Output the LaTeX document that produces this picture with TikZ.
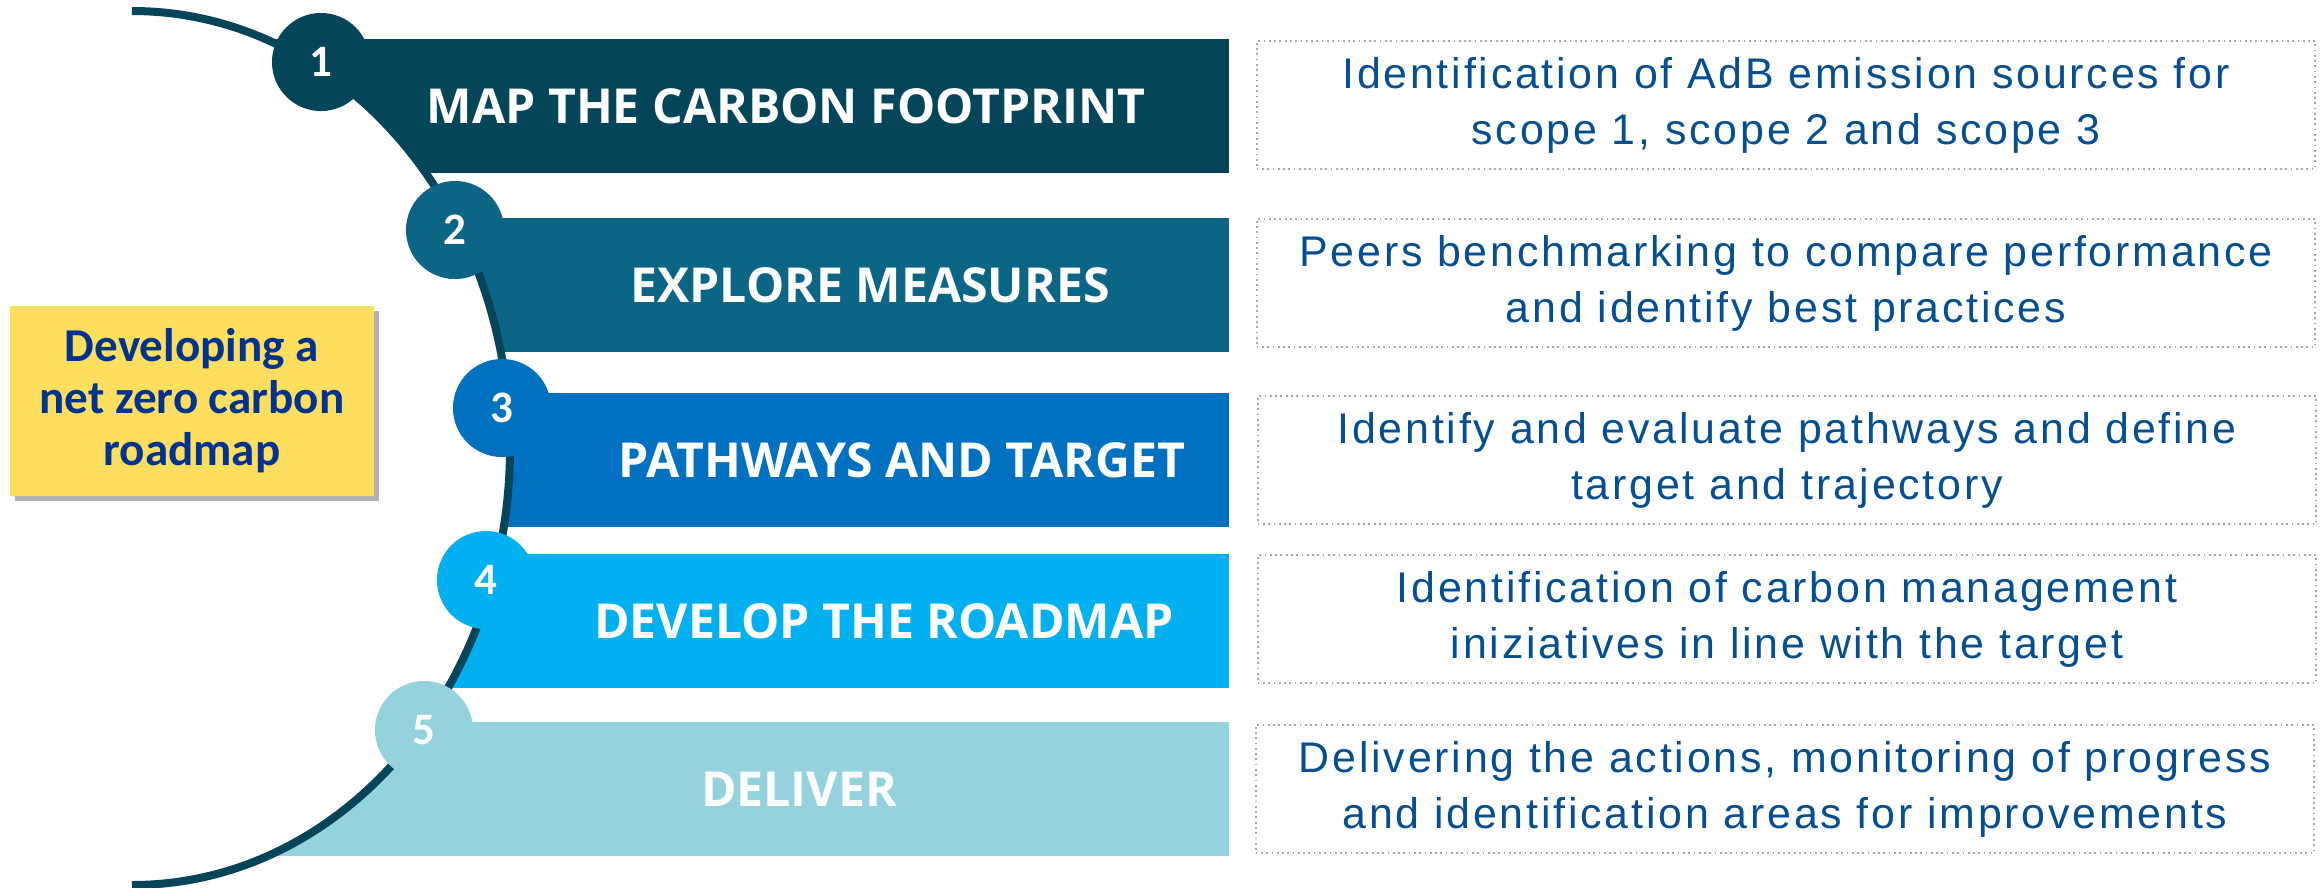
\documentclass[tikz,border=0pt]{standalone}
\usepackage{fontspec}
\setmainfont{Liberation Sans}
\newfontfamily\titlefont{Open Sans}
\newfontfamily\numfont{Carlito}
\newfontfamily\descfont{Liberation Sans}[LetterSpace=6.5]
\usetikzlibrary{shadows}
\definecolor{stepone}{RGB}{5,69,89}
\definecolor{steptwo}{RGB}{11,101,132}
\definecolor{stepthree}{RGB}{0,112,192}
\definecolor{stepfour}{RGB}{0,176,240}
\definecolor{stepfive}{RGB}{148,211,221}
\definecolor{notebg}{RGB}{253,222,94}
\definecolor{notetext}{RGB}{0,51,143}
\definecolor{descblue}{RGB}{5,78,145}

\begin{document}
\begin{tikzpicture}[
x=0.01cm, y=-0.01cm,
num/.style={circle, minimum size=0.98cm, inner sep=0pt, text=white,
  font=\numfont\bfseries\fontsize{12.8}{14}\selectfont},
title/.style={text=white, inner sep=0pt,
  font=\titlefont\bfseries\fontsize{13.7}{15}\selectfont},
desc/.style={draw=gray!70, densely dotted, line width=0.5pt,
  minimum width=10.58cm, minimum height=1.28cm, align=center,
  text=descblue, font=\descfont\fontsize{12.2}{15.9}\selectfont},
note/.style={fill=notebg, minimum width=3.63cm, minimum height=1.90cm,
  align=center, text=notetext,
  font=\numfont\bfseries\fontsize{13.4}{14.8}\selectfont,
  drop shadow={shadow xshift=0.05cm, shadow yshift=-0.05cm, fill=black, opacity=0.3}},
]
\useasboundingbox (0,0) rectangle (2323,887);

% Bars
\fill[stepone] (132,39) rectangle (1229,173);
\fill[steptwo] (132,218) rectangle (1229,352);
\fill[stepthree] (132,393) rectangle (1229,527);
\fill[stepfour] (132,554) rectangle (1229,688);
\fill[stepfive] (132,722) rectangle (1229,856);

% Curve
\fill[white] (132,11) arc[start angle=-90, end angle=90, x radius=378, y radius=437] -- cycle;
\draw[stepone, line width=0.08cm] (132,11) arc[start angle=-90, end angle=90, x radius=378, y radius=437];

% Steps
\node[num, fill=stepone] (n1) at (321,62) {1};
\node[num, fill=steptwo] (n2) at (455,230) {2};
\node[num, fill=stepthree] (n3) at (502,408) {3};
\node[num, fill=stepfour] (n4) at (486,580) {4};
\node[num, fill=stepfive] (n5) at (424,730) {5};

\node[title] (t1) at (786,106) {MAP THE CARBON FOOTPRINT};
\node[title] (t2) at (870,285) {EXPLORE MEASURES};
\node[title] (t3) at (902,460) {PATHWAYS AND TARGET};
\node[title] (t4) at (884,621) {DEVELOP THE ROADMAP};
\node[title] (t5) at (799,789) {DELIVER};

% Descriptions
\node[desc] (d1) at (1786,105) {Identification of AdB emission sources for\\scope 1, scope 2 and scope 3};
\node[desc] (d2) at (1786,283) {Peers benchmarking to compare performance\\and identify best practices};
\node[desc] (d3) at (1787,460) {Identify and evaluate pathways and define\\target and trajectory};
\node[desc] (d4) at (1787,619) {Identification of carbon management\\iniziatives in line with the target};
\node[desc] (d5) at (1785,789) {Delivering the actions, monitoring of progress\\and identification areas for improvements};

% Label
\node[note] (goal) at (192,401) {Developing a\\net zero carbon\\roadmap};

\end{tikzpicture}
\end{document}
